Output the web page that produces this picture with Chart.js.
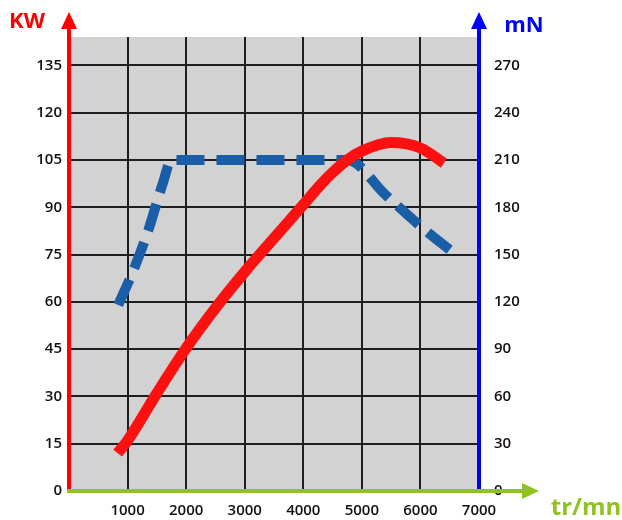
<!DOCTYPE html>
<html>
<head>
<meta charset="utf-8">
<script src="https://cdn.jsdelivr.net/npm/chart.js@4"></script>
<style>
  html, body { margin: 0; padding: 0; background: #fff; }
  #wrap { width: 622px; height: 520px; position: relative; }
</style>
</head>
<body>
<div id="wrap"><canvas id="chart"></canvas></div>
<script>
// Puissance (kW) - courbe rouge
const powerRpm = [830, 1000, 1500, 2000, 2500, 3000, 3500, 4000, 4250, 4500, 4750, 5000, 5500, 6000, 6400];
const powerKw = [12, 16, 31, 45.3, 58, 69.5, 80.2, 90.8, 96.2, 101, 105, 107.8, 110.5, 108.8, 104];

// Couple (mN) - courbe bleue en pointillés
const torqueRpm = [840, 1100, 1350, 1600, 1750, 2500, 3500, 4750, 5400, 6000, 6600];
const torqueNm = [118, 140, 165, 195, 210, 210, 210, 210, 188, 168, 150];

// Axes
const rpmTicks = [1000, 2000, 3000, 4000, 5000, 6000, 7000];
const kwTicks = [0, 15, 30, 45, 60, 75, 90, 105, 120, 135];
const nmTicks = [0, 30, 60, 90, 120, 150, 180, 210, 240, 270];

const tickFont = { family: "'Open Sans'", size: 15, weight: '600' };

// fond gris, flèches des axes et titres
const decor = {
  id: 'decor',
  beforeDraw(chart) {
    const { ctx, chartArea: a } = chart;
    ctx.save();
    ctx.fillStyle = '#d2d2d2';
    ctx.fillRect(a.left, a.top, a.right - a.left, a.bottom - a.top);
    ctx.restore();
  },
  afterDraw(chart) {
    const { ctx, chartArea: a } = chart;
    ctx.save();
    function vAxis(x, color) {
      ctx.strokeStyle = color;
      ctx.fillStyle = color;
      ctx.lineWidth = 4;
      ctx.beginPath();
      ctx.moveTo(x, a.bottom);
      ctx.lineTo(x, 27);
      ctx.stroke();
      ctx.beginPath();
      ctx.moveTo(x, 12);
      ctx.lineTo(x - 8, 29);
      ctx.lineTo(x + 8, 29);
      ctx.closePath();
      ctx.fill();
    }
    vAxis(a.left, '#ff0000');
    vAxis(a.right, '#0000ff');

    const g = '#8fc31f';
    ctx.strokeStyle = g;
    ctx.fillStyle = g;
    ctx.lineWidth = 4;
    ctx.beginPath();
    ctx.moveTo(a.left - 2, a.bottom);
    ctx.lineTo(a.right + 45, a.bottom);
    ctx.stroke();
    ctx.beginPath();
    ctx.moveTo(a.right + 60, a.bottom);
    ctx.lineTo(a.right + 43, a.bottom - 8);
    ctx.lineTo(a.right + 43, a.bottom + 8);
    ctx.closePath();
    ctx.fill();

    ctx.textAlign = 'center';
    ctx.textBaseline = 'middle';
    ctx.font = "bold 22px 'Open Sans'";
    ctx.fillStyle = '#ff0000';
    ctx.fillText('KW', 27, 22);
    ctx.fillStyle = '#0000ff';
    ctx.fillText('mN', 524, 26);
    ctx.font = "bold 24px 'Open Sans'";
    ctx.fillStyle = g;
    ctx.fillText('tr/mn', 586, 508);
    ctx.restore();
  }
};

const keepTicks = list => scale => {
  scale.ticks = scale.ticks.filter(t => list.includes(t.value));
};

new Chart(document.getElementById('chart'), {
  type: 'line',
  data: {
    datasets: [
      {
        label: 'kW',
        data: powerRpm.map((r, i) => ({ x: r, y: powerKw[i] })),
        yAxisID: 'y',
        borderColor: '#ff1010',
        borderWidth: 11,
        borderCapStyle: 'butt',
        pointRadius: 0,
        cubicInterpolationMode: 'monotone'
      },
      {
        label: 'mN',
        data: torqueRpm.map((r, i) => ({ x: r, y: torqueNm[i] })),
        yAxisID: 'y1',
        borderColor: '#1a5ea8',
        borderWidth: 10,
        borderDash: [28, 12],
        borderCapStyle: 'butt',
        pointRadius: 0,
        cubicInterpolationMode: 'monotone'
      }
    ]
  },
  options: {
    responsive: true,
    maintainAspectRatio: false,
    animation: false,
    layout: { padding: { top: 37, left: 0, right: 0, bottom: 0 } },
    plugins: { legend: { display: false }, tooltip: { enabled: false } },
    scales: {
      x: {
        type: 'linear',
        min: 0,
        max: 7000,
        afterBuildTicks: keepTicks([0].concat(rpmTicks)),
        afterFit: s => { s.height = 29; },
        ticks: {
          stepSize: 1000,
          padding: 11,
          color: '#111',
          font: tickFont,
          callback: v => (v === 0 ? '' : v)
        },
        grid: { color: '#1e1e1e', lineWidth: 2, drawTicks: false },
        border: { display: false }
      },
      y: {
        position: 'left',
        min: 0,
        max: 144,
        afterBuildTicks: keepTicks(kwTicks),
        afterFit: s => { s.width = 69; },
        ticks: { stepSize: 15, padding: 7, color: '#111', font: tickFont },
        grid: { color: '#1e1e1e', lineWidth: 2, drawTicks: false },
        border: { display: false }
      },
      y1: {
        position: 'right',
        min: 0,
        max: 288,
        afterBuildTicks: keepTicks(nmTicks),
        afterFit: s => { s.width = 143; },
        ticks: { stepSize: 30, padding: 7, color: '#111', font: tickFont },
        grid: { display: false },
        border: { display: false }
      }
    }
  },
  plugins: [decor]
});
</script>
</body>
</html>
